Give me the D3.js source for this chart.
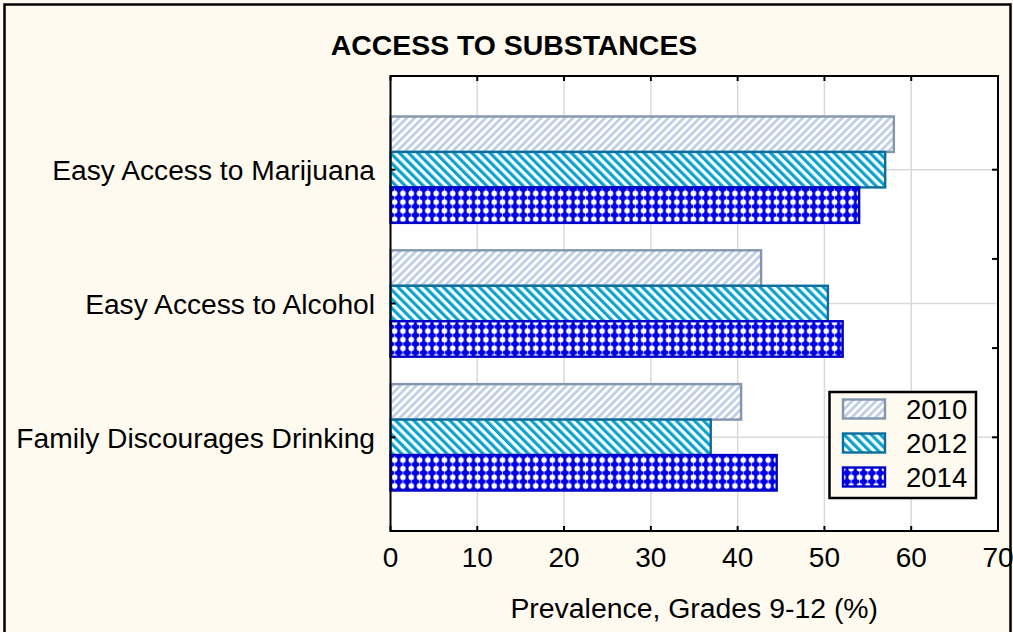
<!DOCTYPE html>
<html>
<head>
<meta charset="utf-8">
<script src="https://cdn.jsdelivr.net/npm/d3@7"></script>
<style>
html,body{margin:0;padding:0;background:#fffaf0;}
svg{display:block;}
text{font-family:"Liberation Sans",Arial,sans-serif;fill:#000;}
</style>
</head>
<body>
<svg id="chart" width="1013" height="632"></svg>
<script>
const categories = ["Easy Access to Marijuana", "Easy Access to Alcohol", "Family Discourages Drinking"];
const seriesNames = ["2010", "2012", "2014"];
const values2010 = [58.0, 42.7, 40.4];
const values2012 = [57.0, 50.4, 36.9];
const values2014 = [54.0, 52.1, 44.5];
const xTicks = [0, 10, 20, 30, 40, 50, 60, 70];
const title = "ACCESS TO SUBSTANCES";
const xTitle = "Prevalence, Grades 9-12 (%)";

const series = [values2010, values2012, values2014];

const svg = d3.select("#chart");
const W = 1013, H = 632;
const m = {left: 390.5, right: 998, top: 76, bottom: 531};

svg.append("rect").attr("x",0).attr("y",0).attr("width",W).attr("height",H).attr("fill","#fffaf0");
svg.append("rect").attr("x",4.5).attr("y",4.5).attr("width",1006).attr("height",700)
  .attr("fill","none").attr("stroke","#000").attr("stroke-width",2.5);

const defs = svg.append("defs");
function stripes(id, color, angle, period, width){
  const p = defs.append("pattern").attr("id",id).attr("patternUnits","userSpaceOnUse")
    .attr("width",period).attr("height",10).attr("patternTransform",`rotate(${angle})`);
  p.append("rect").attr("width",period).attr("height",10).attr("fill","#fff");
  p.append("rect").attr("width",width).attr("height",10).attr("fill",color);
}
stripes("p2010","#bfcfe7",45,5.6,2.8);
stripes("p2012","#0aa3cf",-45,6.4,3.2);
const pd = defs.append("pattern").attr("id","p2014").attr("patternUnits","userSpaceOnUse")
  .attr("width",8.3).attr("height",8.6).attr("x",m.left).attr("y",0);
pd.append("rect").attr("width",8.3).attr("height",8.6).attr("fill","#0000e6");
pd.append("circle").attr("cx",4.15).attr("cy",4.3).attr("r",2.8).attr("fill","#fff");
pd.append("rect").attr("x",3.85).attr("y",0).attr("width",0.6).attr("height",8.6).attr("fill","#fff");

const fills = ["url(#p2010)","url(#p2012)","url(#p2014)"];
const strokes = ["#8396ae","#0a6d9e","#0000c8"];

const x = d3.scaleLinear().domain([0,70]).range([m.left, m.right]);
const y = d3.scaleLinear().domain([-0.7, 2.7]).range([m.top, m.bottom]);
const barH = 0.265;

svg.append("rect").attr("x",m.left).attr("y",m.top).attr("width",m.right-m.left).attr("height",m.bottom-m.top).attr("fill","#fff");

const g = svg.append("g");
g.selectAll("line.vg").data(xTicks.slice(1,-1)).enter().append("line")
  .attr("x1",d=>x(d)).attr("x2",d=>x(d)).attr("y1",m.top).attr("y2",m.bottom)
  .attr("stroke","#d9d9d9").attr("stroke-width",1.5);
g.selectAll("line.hg").data(categories).enter().append("line")
  .attr("x1",m.left).attr("x2",m.right).attr("y1",(d,i)=>y(i)).attr("y2",(d,i)=>y(i))
  .attr("stroke","#d9d9d9").attr("stroke-width",1.5);

series.forEach((vals, s) => {
  svg.append("g").selectAll("rect").data(vals).enter().append("rect")
    .attr("x", x(0))
    .attr("y", (d,i) => y(i - 1.5*barH + s*barH))
    .attr("width", d => x(d) - x(0))
    .attr("height", y(barH) - y(0))
    .attr("fill", fills[s]).attr("stroke", strokes[s]).attr("stroke-width", 2.4);
});

const ax = svg.append("g").attr("stroke","#000").attr("stroke-width",2);
ax.append("rect").attr("x",m.left).attr("y",m.top).attr("width",m.right-m.left).attr("height",m.bottom-m.top).attr("fill","none");
xTicks.forEach(t=>{
  ax.append("line").attr("x1",x(t)).attr("x2",x(t)).attr("y1",m.bottom).attr("y2",m.bottom-5);
  ax.append("line").attr("x1",x(t)).attr("x2",x(t)).attr("y1",m.top).attr("y2",m.top+5);
});
categories.forEach((c,i)=>{
  ax.append("line").attr("x1",m.left).attr("x2",m.left+5).attr("y1",y(i)).attr("y2",y(i));
});
[0, 2/3, 4/3, 2].forEach(v=>{
  ax.append("line").attr("x1",m.right).attr("x2",m.right-6).attr("y1",y(v)).attr("y2",y(v));
});

svg.append("g").selectAll("text").data(xTicks).enter().append("text")
  .attr("x",d=>x(d)).attr("y",567).attr("text-anchor","middle").attr("font-size",28).text(d=>d);
svg.append("g").selectAll("text").data(categories).enter().append("text")
  .attr("x",375).attr("y",(d,i)=>y(i)+10.5).attr("text-anchor","end").attr("font-size",28.2).text(d=>d);

svg.append("text").attr("x",514).attr("y",55).attr("text-anchor","middle")
  .attr("font-size",28.4).attr("font-weight","bold").text(title);
svg.append("text").attr("x",(m.left+m.right)/2).attr("y",618).attr("text-anchor","middle")
  .attr("font-size",28.4).text(xTitle);

const lg = svg.append("g");
lg.append("rect").attr("x",829.5).attr("y",392).attr("width",146.5).attr("height",106)
  .attr("fill","#fffaf0").attr("stroke","#000").attr("stroke-width",2.5);
seriesNames.forEach((n,s)=>{
  const cy = 409 + s*34;
  lg.append("rect").attr("x",843).attr("y",cy-9.5).attr("width",42).attr("height",19)
    .attr("fill",fills[s]).attr("stroke",strokes[s]).attr("stroke-width",2.4);
  lg.append("text").attr("x",906).attr("y",cy+10).attr("font-size",27.5).text(n);
});
</script>
</body>
</html>
